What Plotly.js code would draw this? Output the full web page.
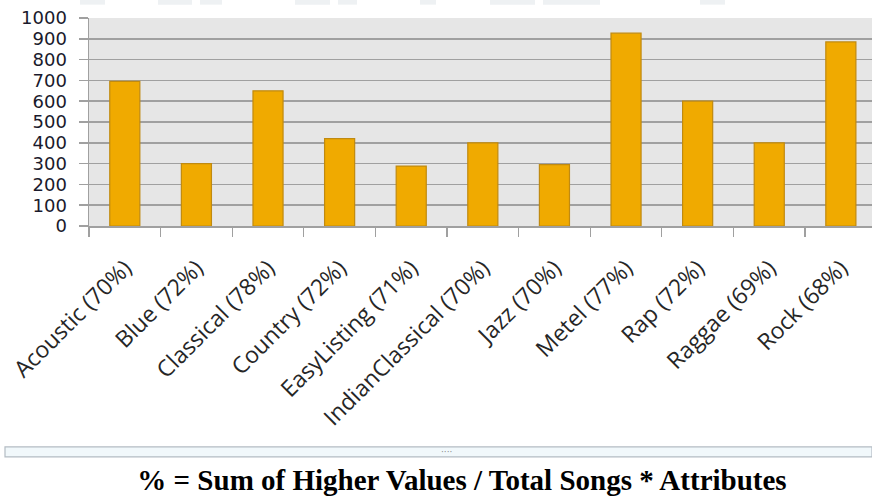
<!DOCTYPE html>
<html>
<head>
<meta charset="utf-8">
<script src="https://cdn.plot.ly/plotly-3.0.1.min.js"></script>
<style>
html,body{margin:0;padding:0;background:#fff;overflow:hidden;}
#chart{width:872px;height:498px;}
</style>
</head>
<body>
<div id="chart"></div>
<script>
const categories = ["Acoustic (70%)", "Blue (72%)", "Classical (78%)", "Country (72%)", "EasyListing (71%)",
  "IndianClassical (70%)", "Jazz (70%)", "Metel (77%)", "Rap (72%)", "Raggae (69%)", "Rock (68%)"];
const values = [695, 300, 650, 420, 288, 400, 295, 927, 600, 400, 885];
const yTicks = [0, 100, 200, 300, 400, 500, 600, 700, 800, 900, 1000];
const footTitle = "% = Sum of Higher Values / Total Songs * Attributes";

const trace = {
  type: "bar",
  x: categories,
  y: values,
  marker: {color: "#f0aa00", line: {color: "#c08a10", width: 1.2}},
  hoverinfo: "skip"
};

const T = 18.3, B = 225.7;
function py(p){ return (B - p) / (B - T); }
function px(p){ return (p - 89) / 783; }

const remnants = [[80,105],[158,192],[200,222],[295,330],[338,357],[420,436],[490,535],[543,600],[700,725]];

const shapes = [
  {type: "rect", xref: "paper", yref: "paper",
   x0: px(5), x1: px(872), y0: py(456), y1: py(446),
   fillcolor: "#f1f8fb", line: {color: "#b4bcc4", width: 1.2}}
].concat(remnants.map(r => ({type: "rect", xref: "paper", yref: "paper",
   x0: px(r[0]), x1: px(r[1]), y0: py(5), y1: py(0), fillcolor: "#eef1f3", line: {width: 0}})));

const layout = {
  width: 872, height: 498,
  margin: {l: 89, r: 0, t: 18, b: 272, pad: 0},
  paper_bgcolor: "#ffffff",
  plot_bgcolor: "#e6e6e6",
  bargap: 0.58,
  showlegend: false,
  xaxis: {
    range: [-0.5, 10.435],
    tickangle: -45,
    tickson: "boundaries",
    ticks: "outside", ticklen: 9, tickwidth: 1.2, tickcolor: "#a0a0a0",
    showline: true, linecolor: "#a0a0a0", linewidth: 1.5,
    showgrid: false, zeroline: false,
    tickfont: {family: "Open Sans, sans-serif", size: 23, color: "#262626"},
    ticklabelstandoff: 18,
    fixedrange: true
  },
  yaxis: {
    range: [0, 1000],
    tickvals: yTicks,
    ticktext: yTicks.map(String),
    ticks: "outside", ticklen: 9, tickwidth: 1.5, tickcolor: "#a0a0a0",
    showline: true, linecolor: "#a0a0a0", linewidth: 1.5,
    showgrid: true, gridcolor: "#a0a0a0", gridwidth: 1.5,
    zeroline: false,
    tickfont: {family: "DejaVu Sans, sans-serif", size: 18, color: "#1a1a2c"},
    ticklabelstandoff: 8,
    fixedrange: true
  },
  title: {
    text: "<b>" + footTitle + "</b>",
    font: {family: "Liberation Serif, serif", size: 29, color: "#000000"},
    x: 462/872, xref: "container", xanchor: "center",
    y: 1 - 480/498, yref: "container", yanchor: "middle"
  },
  shapes: shapes,
  annotations: [
    {text: "····", xref: "paper", yref: "paper", x: px(446), y: py(451),
     showarrow: false, font: {family: "DejaVu Sans, sans-serif", size: 9, color: "#8a8a8a"},
     xanchor: "center", yanchor: "middle"}
  ]
};

Plotly.newPlot("chart", [trace], layout, {displayModeBar: false, staticPlot: true});
</script>
</body>
</html>
